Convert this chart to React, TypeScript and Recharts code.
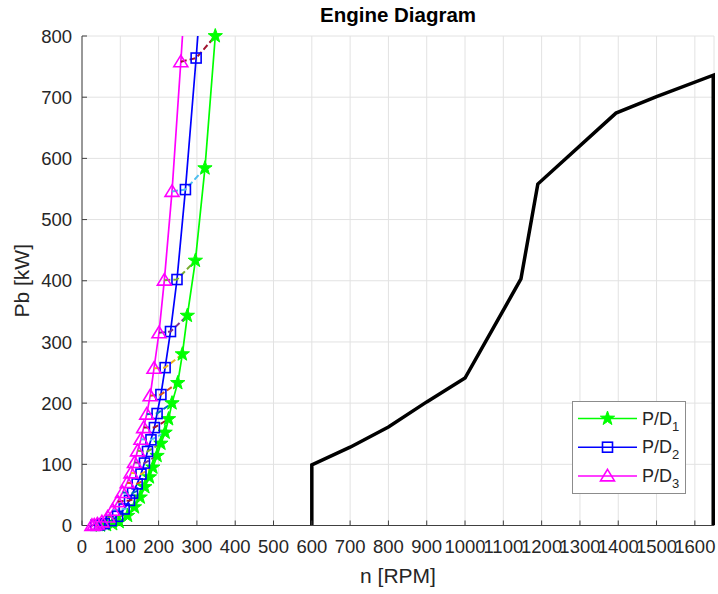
import React from 'react';
import { ComposedChart, Line, Scatter, XAxis, YAxis, CartesianGrid, Legend } from 'recharts';

// engine limit curve
const engineN = [600, 600, 700, 800, 900, 1000, 1146, 1190, 1394, 1500, 1648, 1648];
const engineP = [0, 99, 128, 161, 202, 241, 403, 558, 674, 701, 736, 0];

// propeller curves, one point per operating condition (last one runs above the plot)
const pd1N = [48, 64, 80, 97, 119, 137, 152, 164, 176, 185, 196, 206, 217, 226, 235, 250, 262, 275, 296, 321, 348, 385];
const pd1P = [0.3, 1, 2.5, 6, 16, 30, 46, 63, 79, 95, 114, 134, 152, 174, 200, 233, 280, 343, 433, 584, 800, 1080];
const pd2N = [36, 46, 58, 76, 93, 110, 124, 132, 144, 154, 163, 171, 180, 189, 196, 206, 217, 231, 248, 270, 298, 330];
const pd2P = [0.3, 1, 3, 8, 15, 27, 41, 53, 68, 84, 102, 121, 140, 160, 183, 214, 258, 317, 402, 549, 764, 1030];
const pd3N = [26, 32, 40, 52, 67, 80, 93, 106, 118, 128, 137, 145, 154, 161, 169, 178, 188, 201, 215, 235, 258, 285];
const pd3P = [0.2, 0.8, 2.5, 6, 14, 25, 39, 54, 70, 86, 103, 122, 141, 160, 182, 212, 257, 315, 401, 546, 758, 1020];

const xTicks = [0, 100, 200, 300, 400, 500, 600, 700, 800, 900, 1000, 1100, 1200, 1300, 1400, 1500, 1600];
const yTicks = [0, 100, 200, 300, 400, 500, 600, 700, 800];

const connectorColors = ['#0072BD', '#D95319', '#EDB120', '#7E2F8E', '#77AC30', '#4DBEEE', '#A2142F'];

const FONT = '"Liberation Sans", Arial, sans-serif';
const TEXT = '#262626';

const pts = (ns: number[], ps: number[]) => ns.map((n, i) => ({ n, p: ps[i] }));

const engine = pts(engineN, engineP);
const pd1 = pts(pd1N, pd1P);
const pd2 = pts(pd2N, pd2P);
const pd3 = pts(pd3N, pd3P);

const series = [
  { key: 'pd1', sub: '1', color: '#00FF00', shape: 'star', points: pd1 },
  { key: 'pd2', sub: '2', color: '#0000FF', shape: 'square', points: pd2 },
  { key: 'pd3', sub: '3', color: '#FF00FF', shape: 'triangle', points: pd3 },
];

const starPoints = (cx: number, cy: number, R: number, r: number) => {
  const out: string[] = [];
  for (let k = 0; k < 10; k++) {
    const rad = k % 2 === 0 ? R : r;
    const a = -Math.PI / 2 + (k * Math.PI) / 5;
    out.push(`${cx + rad * Math.cos(a)},${cy + rad * Math.sin(a)}`);
  }
  return out.join(' ');
};

const Marker = ({ shape, color, cx, cy }: any) => {
  if (cx == null || cy == null) return null;
  if (shape === 'star')
    return <polygon points={starPoints(cx, cy, 7.5, 3)} fill={color} stroke={color} strokeWidth={1} />;
  if (shape === 'square')
    return <rect x={cx - 5} y={cy - 5} width={10} height={10} fill="none" stroke={color} strokeWidth={1.6} />;
  return (
    <polygon
      points={`${cx},${cy - 6.5} ${cx + 7},${cy + 5} ${cx - 7},${cy + 5}`}
      fill="none"
      stroke={color}
      strokeWidth={1.6}
    />
  );
};

const renderLegend = () => (
  <div
    style={{
      width: 114,
      height: 93,
      boxSizing: 'border-box',
      background: '#fff',
      border: '1px solid #8c8c8c',
      fontFamily: FONT,
    }}
  >
    <svg width={112} height={91}>
      {series.map((s, i) => {
        const y = 16.5 + i * 28.7;
        return (
          <g key={s.key}>
            <line x1={5} x2={64} y1={y} y2={y} stroke={s.color} strokeWidth={1.5} />
            <Marker shape={s.shape} color={s.color} cx={34.5} cy={y} />
            <text x={69} y={y + 6} fontSize={18} fill={TEXT}>
              P/D
              <tspan fontSize={13} dy={6}>
                {s.sub}
              </tspan>
            </text>
          </g>
        );
      })}
    </svg>
  </div>
);

export default function App() {
  return (
    <div style={{ position: 'absolute', left: 0, top: 0, width: 718, height: 594, background: '#fff', fontFamily: FONT }}>
      <div
        style={{
          position: 'absolute',
          left: 198,
          width: 400,
          top: 2,
          textAlign: 'center',
          fontSize: 20.5,
          lineHeight: '26px',
          fontWeight: 'bold',
          color: '#000',
        }}
      >
        Engine Diagram
      </div>
      <ComposedChart width={718} height={594} margin={{ top: 36, right: 4, bottom: 0, left: 0 }}>
        <CartesianGrid stroke="#e2e2e2" strokeWidth={1} />
        <XAxis
          type="number"
          dataKey="n"
          domain={[0, 1650]}
          ticks={xTicks}
          interval={0}
          height={68.5}
          tickSize={-5}
          tickMargin={19.5}
          axisLine={{ stroke: '#404040' }}
          tickLine={{ stroke: '#404040' }}
          tick={{ fill: TEXT, fontSize: 18.5, fontFamily: FONT }}
          label={{ value: 'n [RPM]', position: 'insideBottom', offset: 11, fill: TEXT, fontSize: 21, fontFamily: FONT }}
        />
        <YAxis
          type="number"
          dataKey="p"
          domain={[0, 800]}
          allowDataOverflow
          ticks={yTicks}
          interval={0}
          width={82}
          tickSize={-5}
          tickMargin={15}
          axisLine={{ stroke: '#404040' }}
          tickLine={{ stroke: '#404040' }}
          tick={{ fill: TEXT, fontSize: 18.5, fontFamily: FONT }}
          label={{
            value: 'Pb [kW]',
            angle: -90,
            position: 'insideLeft',
            offset: 22,
            textAnchor: 'middle',
            fill: TEXT,
            fontSize: 21,
            fontFamily: FONT,
          }}
        />
        <YAxis yAxisId="mk" type="number" dataKey="p" domain={[0, 800]} hide />
        <Line
          data={engine}
          dataKey="p"
          type="linear"
          stroke="#000"
          strokeWidth={3.5}
          dot={false}
          isAnimationActive={false}
          legendType="none"
        />
        {series.map((s) => (
          <Line
            key={s.key}
            data={s.points}
            dataKey="p"
            type="linear"
            stroke={s.color}
            strokeWidth={1.7}
            dot={false}
            isAnimationActive={false}
          />
        ))}
        {series.map((s) => (
          <Scatter
            key={`${s.key}-m`}
            yAxisId="mk"
            data={s.points.filter((d) => d.p <= 800)}
            dataKey="p"
            isAnimationActive={false}
            shape={(props: any) => <Marker shape={s.shape} color={s.color} cx={props.cx} cy={props.cy} />}
          />
        ))}
        {pd1.map((_, i) => (
          <Line
            key={`c${i}`}
            data={[pd3[i], pd2[i], pd1[i]]}
            dataKey="p"
            type="linear"
            stroke={connectorColors[i % 7]}
            strokeWidth={2}
            strokeDasharray="6 3"
            dot={false}
            isAnimationActive={false}
            legendType="none"
          />
        ))}
        <Legend
          layout="horizontal"
          verticalAlign="middle"
          align="center"
          content={renderLegend}
          wrapperStyle={{ left: 572, top: 401, width: 114, height: 93 }}
        />
      </ComposedChart>
    </div>
  );
}
